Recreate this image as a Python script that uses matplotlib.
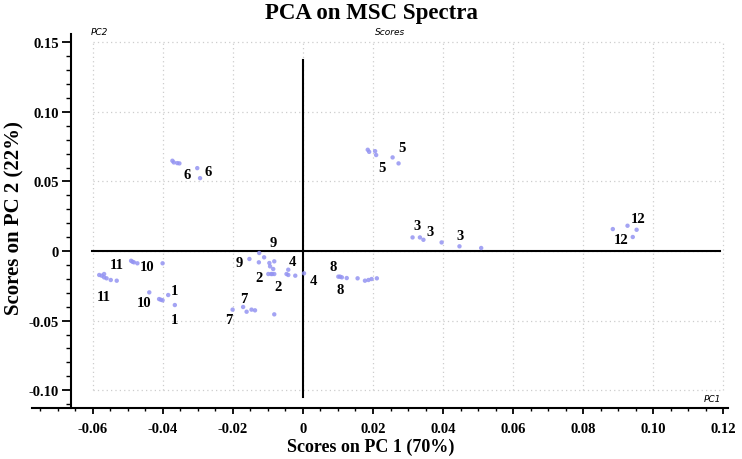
import numpy as np
import matplotlib.pyplot as plt
from matplotlib.ticker import MultipleLocator

# PCA scores (PC1, PC2)
pc1 = [-0.0582, -0.0575, -0.0568, -0.0568, -0.0561, -0.0549, -0.0532,
       -0.0491, -0.0487, -0.0483, -0.0473, -0.0401,
       -0.0439, -0.0411, -0.0406, -0.0401, -0.0385, -0.0366,
       -0.0373, -0.0369, -0.0359, -0.0353, -0.0302, -0.0294,
       -0.0125, -0.0153, -0.0111, -0.0126, -0.0096, -0.0082, -0.0094, -0.0085,
       -0.0099, -0.0091, -0.0088, -0.0082,
       -0.0042, -0.0042, -0.0047, -0.0022, 0.0003,
       -0.0201, -0.0171, -0.0161, -0.0147, -0.0137, -0.0082,
       0.0101, 0.0106, 0.0111, 0.0125, 0.0156, 0.0177, 0.0187, 0.0196, 0.0211,
       0.0185, 0.0189, 0.0206, 0.0209, 0.0256, 0.0273,
       0.0313, 0.0334, 0.0344, 0.0396, 0.0447, 0.0509,
       0.0885, 0.0927, 0.0953, 0.0942]
pc2 = [-0.0172, -0.0177, -0.0165, -0.0189, -0.0196, -0.0208, -0.0213,
       -0.0070, -0.0077, -0.0081, -0.0088, -0.0088,
       -0.0297, -0.0345, -0.0350, -0.0354, -0.0316, -0.0388,
       0.0649, 0.0637, 0.0632, 0.0630, 0.0596, 0.0524,
       -0.0014, -0.0057, -0.0045, -0.0081, -0.0086, -0.0074, -0.0110, -0.0129,
       -0.0165, -0.0165, -0.0165, -0.0165,
       -0.0134, -0.0172, -0.0165, -0.0177, -0.0160,
       -0.0421, -0.0402, -0.0436, -0.0421, -0.0426, -0.0455,
       -0.0184, -0.0184, -0.0189, -0.0194, -0.0196, -0.0213, -0.0208, -0.0201, -0.0196,
       0.0728, 0.0713, 0.0718, 0.0690, 0.0673, 0.0630,
       0.0098, 0.0098, 0.0081, 0.0062, 0.0034, 0.0022,
       0.0158, 0.0182, 0.0153, 0.0101]

# sample labels and where they sit
lab_txt = ["11", "10", "11", "10", "1", "1", "6", "6", "9", "9", "4", "4",
           "2", "2", "7", "7", "8", "8", "5", "5", "3", "3", "3", "12", "12"]
lab_x = [-0.0532, -0.0445, -0.0568, -0.0453, -0.0368, -0.0368, -0.0331, -0.0272,
         -0.0085, -0.0182, -0.0029, 0.0031, -0.0125, -0.0072, -0.0168, -0.0211,
         0.0087, 0.0106, 0.0283, 0.0225, 0.0325, 0.0363, 0.0449, 0.0958, 0.0909]
lab_y = [-0.0098, -0.0113, -0.0328, -0.0369, -0.0285, -0.0489, 0.0553, 0.0573,
         0.0062, -0.0081, -0.0074, -0.0213, -0.0189, -0.0254, -0.0340, -0.0489,
         -0.0110, -0.0273, 0.0745, 0.0601, 0.0187, 0.0139, 0.0115, 0.0235, 0.0081]

xticks = [-0.06, -0.04, -0.02, 0, 0.02, 0.04, 0.06, 0.08, 0.10, 0.12]
xticklabels = ["-0.06", "-0.04", "-0.02", "0", "0.02", "0.04", "0.06", "0.08", "0.10", "0.12"]
yticks = [-0.10, -0.05, 0, 0.05, 0.10, 0.15]
yticklabels = ["-0.10", "-0.05", "0", "0.05", "0.10", "0.15"]

serif = "Liberation Serif"

fig = plt.figure(figsize=(7.42, 4.6), dpi=100)
ax = fig.add_axes([32 / 742, 51 / 460, 696 / 742, 374 / 460])
ax.set_xlim(-0.0774, 0.1214)
ax.set_ylim(-0.1128, 0.156)

# dotted grid only over the tick range
for x in xticks:
    ax.plot([x, x], [yticks[0], yticks[-1]], ls=(0, (1, 2.5)), color="#cdcdcd", lw=0.9, zorder=1)
for y in yticks:
    ax.plot([xticks[0], xticks[-1]], [y, y], ls=(0, (1, 2.5)), color="#cdcdcd", lw=0.9, zorder=1)

# zero lines
ax.plot([0, 0], [-0.105, 0.137], color="black", lw=1.5, zorder=2)
ax.plot([-0.0602, 0.119], [0, 0], color="black", lw=1.5, zorder=2)

ax.scatter(pc1, pc2, s=10, color="#9494f2", alpha=0.85, edgecolors="none", zorder=3)

for t, x, y in zip(lab_txt, lab_x, lab_y):
    ax.text(x, y, t, ha="center", va="center", fontsize=10.5, fontweight="bold",
            family=serif, zorder=4)

ax.spines["top"].set_visible(False)
ax.spines["right"].set_visible(False)
ax.spines["left"].set_position(("data", -0.0663))
ax.spines["left"].set_linewidth(1.5)
ax.spines["bottom"].set_linewidth(1.5)

ax.set_xticks(xticks)
ax.set_xticklabels(xticklabels)
ax.set_yticks(yticks)
ax.set_yticklabels(yticklabels)
ax.xaxis.set_minor_locator(MultipleLocator(0.005))
ax.yaxis.set_minor_locator(MultipleLocator(0.01))
ax.tick_params(axis="x", which="major", length=4, width=1.3, pad=6)
ax.tick_params(axis="x", which="minor", length=2.5, width=1)
ax.tick_params(axis="y", which="major", length=6.5, width=1.3, pad=2)
ax.tick_params(axis="y", which="minor", length=3.5, width=1)
for lbl in ax.get_xticklabels() + ax.get_yticklabels():
    lbl.set_fontfamily(serif)
    lbl.set_fontweight("bold")
    lbl.set_fontsize(10.5)

ax.text(-0.0605, 0.1575, "PC2", fontsize=6.5, style="italic", family="DejaVu Sans",
        ha="left", va="center")
ax.text(0.025, 0.1575, "Scores", fontsize=6.5, style="italic", family="DejaVu Sans",
        ha="center", va="center")
ax.text(0.1195, -0.106, "PC1", fontsize=6.5, style="italic", family="DejaVu Sans",
        ha="right", va="center")

fig.text(0.5, 0.97, "PCA on MSC Spectra", ha="center", va="center",
         fontsize=16.5, fontweight="bold", family=serif)
fig.text(371 / 742, 1 - 447 / 460, "Scores on PC 1 (70%)", ha="center", va="center",
         fontsize=13, fontweight="bold", family=serif)
fig.text(14 / 742, 1 - 218 / 460, "Scores on PC 2 (22%)", ha="center", va="center",
         rotation=90, fontsize=15, fontweight="bold", family=serif)

fig.savefig("out.png", dpi=100)
